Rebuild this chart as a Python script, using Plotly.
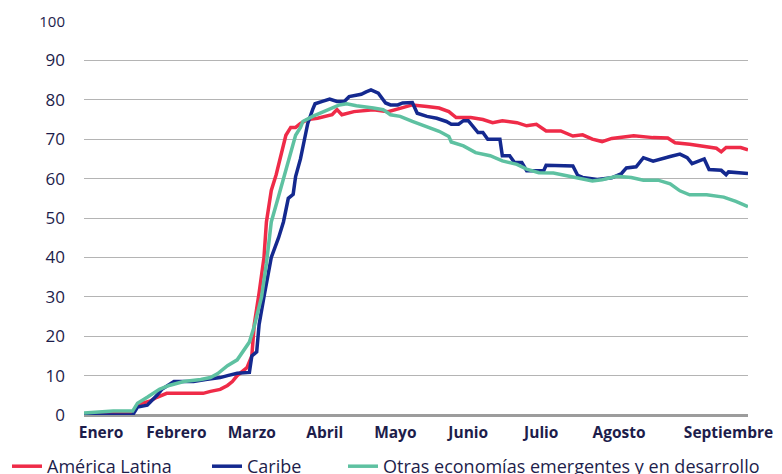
import pandas as pd
import plotly.graph_objects as go

# ---- data (day index from 1 Jan 2020, value) ----
al_day = [0, 20, 22, 24, 27, 30, 34, 49, 52, 56, 59, 61, 63, 66, 67, 69, 70, 72, 74, 75, 77, 79, 81, 83, 85, 87, 89, 92, 96, 102, 104, 106, 111, 119, 125, 130, 135, 141, 146, 150, 153, 159, 164, 168, 172, 178, 182, 186, 190, 196, 201, 205, 209, 213, 217, 226, 234, 240, 243, 249, 256, 260, 262, 264, 270, 273]
al_val = [0.3, 0.5, 2.5, 3, 3.5, 4.5, 5.5, 5.5, 6, 6.5, 7.5, 8.5, 10, 11.5, 12, 15, 23, 31, 40, 49, 57, 61, 66, 71, 73, 73, 74, 75, 75.3, 76.2, 77.5, 76.2, 77, 77.5, 77, 77.9, 78.7, 78.3, 77.9, 77, 75.5, 75.5, 75, 74.2, 74.7, 74.2, 73.4, 73.8, 72.1, 72.1, 70.8, 71.1, 70, 69.4, 70.2, 70.9, 70.4, 70.3, 69.1, 68.7, 68.1, 67.7, 66.8, 67.9, 67.9, 67.3]

ca_day = [0, 20, 22, 26, 30, 32, 37, 45, 50, 56, 59, 62, 63, 68, 69, 71, 72, 74, 77, 80, 82, 84, 86, 87, 89, 91, 92, 94, 95, 98, 101, 104, 107, 109, 114, 116, 118, 121, 124, 126, 129, 131, 135, 137, 141, 145, 149, 151, 154, 156, 158, 162, 164, 166, 171, 172, 175, 177, 180, 182, 189, 190, 196, 201, 203, 205, 211, 217, 221, 223, 227, 230, 234, 237, 241, 245, 248, 250, 253, 255, 257, 262, 264, 265, 273]
ca_val = [0, 0, 2, 2.5, 5, 6.5, 8.5, 8.5, 9, 9.5, 10, 10.3, 10.6, 10.8, 15, 16, 23, 30, 40, 45, 49, 55, 56, 60.5, 65, 71, 74, 77.5, 79, 79.6, 80.2, 79.6, 79.6, 80.8, 81.4, 82, 82.5, 81.7, 79.2, 78.7, 78.7, 79.2, 79.3, 76.6, 75.8, 75.3, 74.5, 73.8, 73.8, 74.7, 74.7, 71.7, 71.7, 70, 70, 65.8, 65.8, 64.1, 64.1, 62, 62, 63.4, 63.2, 63.2, 60.8, 60.3, 59.8, 60.2, 61.3, 62.7, 63, 65.3, 64.4, 65, 65.6, 66.2, 65.3, 63.8, 64.4, 65, 62.3, 62.1, 61, 61.7, 61.3]

ot_day = [0, 12, 20, 21, 22, 26, 31, 35, 41, 48, 52, 55, 59, 63, 66, 68, 70, 73, 75, 77, 80, 83, 85, 87, 89, 90, 94, 100, 105, 108, 112, 119, 123, 126, 130, 135, 141, 146, 150, 151, 156, 161, 167, 172, 178, 182, 187, 193, 198, 204, 209, 213, 219, 225, 230, 236, 241, 245, 249, 256, 263, 268, 273]
ot_val = [0.5, 1, 1, 2, 3, 4.5, 6.5, 7.5, 8.5, 9, 9.5, 10.5, 12.5, 14, 16.5, 18.5, 22.5, 30, 38.5, 49, 55.5, 62, 66, 71, 73, 74.5, 75.8, 77.5, 78.7, 79, 78.5, 77.9, 77.5, 76.2, 75.8, 74.5, 73.2, 72, 70.7, 69.3, 68.3, 66.6, 65.8, 64.5, 63.6, 62.4, 61.5, 61.4, 60.8, 60, 59.4, 59.7, 60.6, 60.3, 59.6, 59.6, 58.7, 56.9, 55.9, 55.9, 55.3, 54.2, 52.9]

series_names = ["América Latina", "Caribe", "Otras economías emergentes y en desarrollo"]
series_colors = ["#EF2B48", "#14298F", "#5EC1A1"]

month_labels = ["Enero", "Febrero", "Marzo", "Abril", "Mayo", "Junio", "Julio", "Agosto", "Septiembre"]
month_label_dates = ["2020-01-08", "2020-02-08", "2020-03-10", "2020-04-09", "2020-05-08",
                     "2020-06-07", "2020-07-07", "2020-08-08", "2020-09-22"]

y_ticks = [0, 10, 20, 30, 40, 50, 60, 70, 80, 90, 100]

base = pd.Timestamp("2020-01-01")
def to_dates(days):
    return [base + pd.Timedelta(days=d) for d in days]

navy = "#1d1d4b"
legend_ids = ["legend", "legend2", "legend3"]
legend_x_px = [7, 207, 343]

fig = go.Figure()
for days, vals, name, col, lid in zip([al_day, ca_day, ot_day], [al_val, ca_val, ot_val],
                                      series_names, series_colors, legend_ids):
    fig.add_trace(go.Scatter(x=to_dates(days), y=vals, mode="lines", name=name,
                             legend=lid, line=dict(color=col, width=3.5)))

y_text = [f'<span style="font-size:15px">{v}</span>' if v == 100 else str(v) for v in y_ticks]

legend_common = dict(orientation="h", xref="container", yref="container",
                     xanchor="left", y=1 - 466.5 / 474, yanchor="middle",
                     font=dict(size=18, color=navy, family="Open Sans"),
                     bgcolor="rgba(0,0,0,0)", borderwidth=0)
legends = {lid: dict(legend_common, x=xp / 782) for lid, xp in zip(legend_ids, legend_x_px)}

fig.update_layout(
    width=782, height=474,
    margin=dict(l=84, r=34, t=21, b=59, autoexpand=False),
    paper_bgcolor="white", plot_bgcolor="white",
    font=dict(family="Open Sans", color=navy),
    showlegend=True,
    **legends,
    xaxis=dict(type="date", range=["2020-01-01", "2020-09-30"],
               showgrid=False, zeroline=False, showline=False, ticks="",
               tickmode="array", tickvals=month_label_dates,
               ticktext=[f"<b>{m}</b>" for m in month_labels],
               ticklabelstandoff=6,
               tickfont=dict(size=15.5, color=navy, family="Open Sans")),
    yaxis=dict(range=[0, 100], tickmode="array", tickvals=y_ticks, ticktext=y_text,
               showgrid=True, gridcolor="#b4b4b4", gridwidth=1.3,
               zeroline=True, zerolinecolor="#9c9c9c", zerolinewidth=2.5,
               showline=False, ticks="", ticklabelstandoff=18,
               tickfont=dict(size=17, color=navy, family="Open Sans")),
)

fig.write_html("out.html",
               config={"displayModeBar": False},
               post_script="document.body.style.margin='0';document.body.style.overflow='hidden';")
